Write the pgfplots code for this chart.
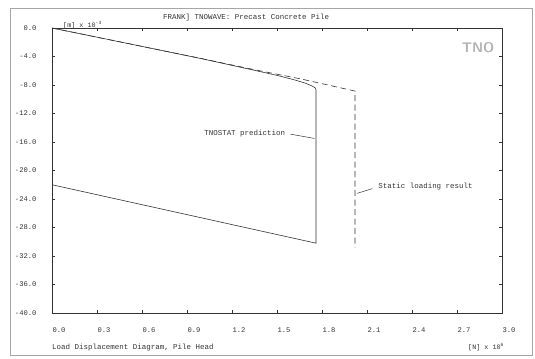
\documentclass[border=0pt]{standalone}
\usepackage{fontspec}
\setmainfont{Liberation Mono}
\usepackage{pgfplots}
\pgfplotsset{compat=1.18}
\definecolor{ink}{gray}{0.2}
\begin{document}
\begin{tikzpicture}[x=1bp,y=1bp]
\path[use as bounding box] (0,0) rectangle (535,358);
\draw[gray!70, line width=0.8pt] (10,3) rectangle (532,350);
\begin{axis}[
  at={(52bp,45bp)}, anchor=south west,
  scale only axis, width=450bp, height=285bp,
  xmin=0, xmax=3, ymin=-40, ymax=0,
  xtick={0,0.3,...,3.01}, ytick={-40,-36,...,0},
  tick align=inside, major tick length=3bp,
  axis line style={ink, line width=0.6pt},
  tick style={ink, line width=0.5pt},
  /pgf/number format/assume math mode=true,
  /pgf/number format/.cd, fixed, fixed zerofill, precision=1, /pgfplots/.cd,
  ticklabel style={font=\fontsize{7.2}{8}\selectfont, text=ink},
  yticklabel style={xshift=-12bp},
  xticklabel style={xshift=7bp, yshift=-11bp},
  clip=false,
]
\addplot[ink, line width=0.6pt] coordinates {
 (0,0) (0.5,-2.15) (1.0,-4.32) (1.32,-5.8) (1.5,-6.65)
 (1.62,-7.3) (1.69,-7.75) (1.73,-8.1) (1.755,-8.4) (1.76,-8.7)
 (1.76,-30.2) (0,-22.0)
};
\addplot[ink, line width=0.6pt, dash pattern=on 6bp off 3.5bp] coordinates {
 (0,0) (0.5,-2.15) (1.0,-4.3) (1.32,-5.72) (1.67,-7.2) (2.02,-8.85) (2.02,-30.8)
};
\draw[ink, line width=0.5pt] (axis cs:1.59,-14.9) -- (axis cs:1.75,-15.5);
\node[anchor=east, font=\fontsize{7.5}{8}\selectfont, text=ink, inner sep=0pt] at (axis cs:1.555,-14.8) {TNOSTAT prediction};
\draw[ink, line width=0.5pt] (axis cs:2.135,-22.55) -- (axis cs:2.035,-23.2);
\node[anchor=west, font=\fontsize{7.5}{8}\selectfont, text=ink, inner sep=0pt] at (axis cs:2.175,-22.3) {Static loading result};
\node[font=\sffamily\bfseries\fontsize{14}{14}\selectfont, text=gray!60] at (axis cs:2.84,-2.8) {TNO};
\end{axis}
\node[anchor=west, font=\fontsize{7.5}{8}\selectfont, text=ink, inner sep=0pt] at (163,340) {FRANK] TNOWAVE: Precast Concrete Pile};
\node[anchor=west, font=\fontsize{6.8}{7}\selectfont, text=ink, inner sep=0pt] at (63,333) {[m] x 10\textsuperscript{-3}};
\node[anchor=west, font=\fontsize{7.5}{8}\selectfont, text=ink, inner sep=0pt] at (52,10) {Load Displacement Diagram, Pile Head};
\node[anchor=west, font=\fontsize{6.8}{7}\selectfont, text=ink, inner sep=0pt] at (468,11) {[N] x 10\textsuperscript{6}};
\end{tikzpicture}
\end{document}
